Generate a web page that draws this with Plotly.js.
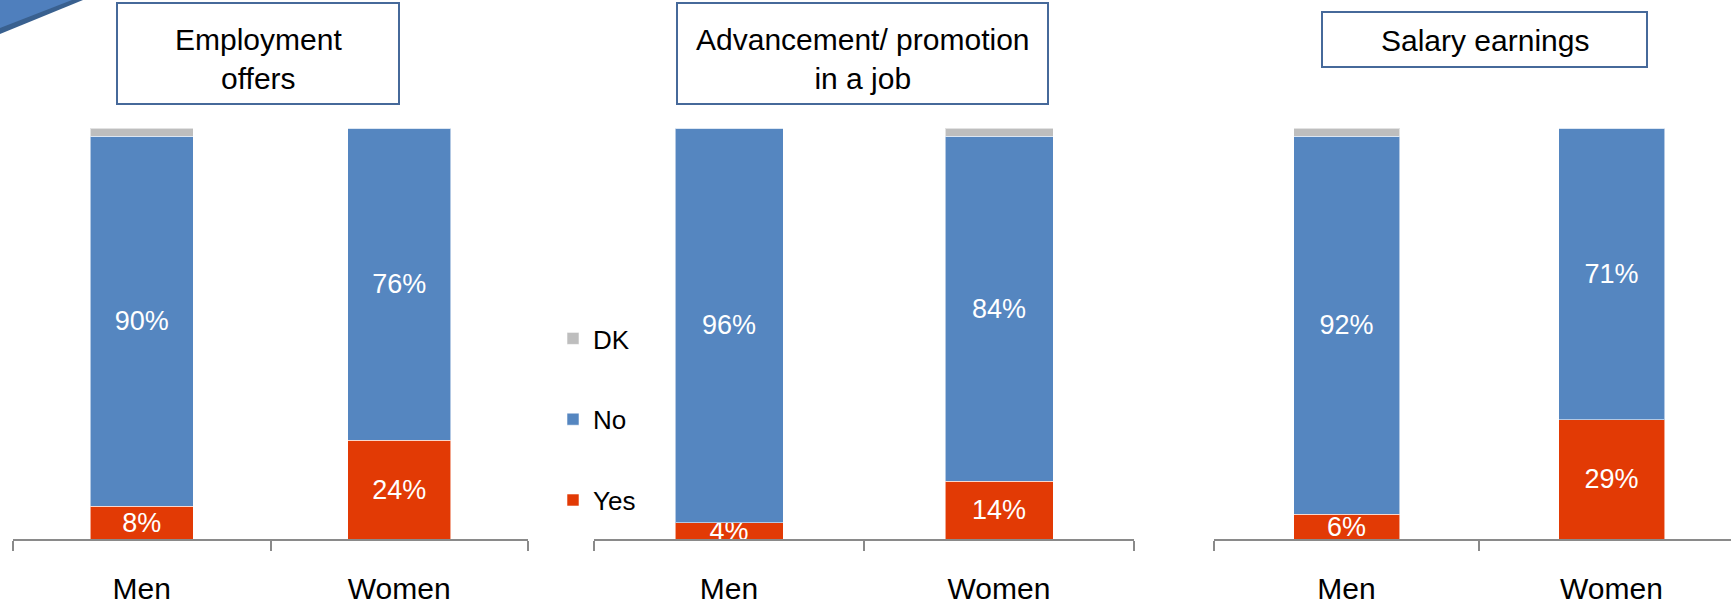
<!DOCTYPE html>
<html>
<head>
<meta charset="utf-8">
<script src="https://cdn.plot.ly/plotly-3.0.1.min.js"></script>
<style>
  html, body { margin: 0; padding: 0; background: #ffffff; }
  #chart { width: 1731px; height: 604px; }
</style>
</head>
<body>
<div id="chart"></div>
<script>
// ---- data ----
const categories = ['Men', 'Women'];
const panelTitles = ['Employment<br>offers', 'Advancement/ promotion<br>in a job', 'Salary earnings'];
const seriesNames = ['Yes', 'No', 'DK'];

const employmentYes = [8, 24];
const employmentNo  = [90, 76];
const employmentDK  = [2, 0];

const promotionYes = [4, 14];
const promotionNo  = [96, 84];
const promotionDK  = [0, 2];

const salaryYes = [6, 29];
const salaryNo  = [92, 71];
const salaryDK  = [2, 0];

// ---- styling ----
const W = 1731, H = 604;
const FONT = '"Liberation Sans", Arial, sans-serif';
const colors = { Yes: '#E23A05', No: '#5586C0', DK: '#BEBEBE' };
const legendRanks = { DK: 1, No: 2, Yes: 3 };

const panels = [
  { yes: employmentYes, no: employmentNo, dk: employmentDK },
  { yes: promotionYes,  no: promotionNo,  dk: promotionDK },
  { yes: salaryYes,     no: salaryNo,     dk: salaryDK }
];

const traces = [];
panels.forEach((p, i) => {
  const sfx = i === 0 ? '' : String(i + 1);
  const vals = { Yes: p.yes, No: p.no, DK: p.dk };
  seriesNames.forEach(name => {
    const v = vals[name];
    traces.push({
      type: 'bar',
      name: name,
      legendgroup: name,
      legendrank: legendRanks[name],
      showlegend: i === 0,
      x: categories,
      y: v,
      xaxis: 'x' + sfx,
      yaxis: 'y' + sfx,
      marker: { color: colors[name], line: { color: 'rgba(255,255,255,0.55)', width: 1 } },
      text: name === 'DK' ? v.map(() => '') : v.map(n => n + '%'),
      textposition: name === 'DK' ? 'none' : 'inside',
      insidetextanchor: 'middle',
      constraintext: 'none',
      textangle: 0,
      textfont: { family: FONT, size: 27, color: '#ffffff' },
      hoverinfo: 'skip'
    });
  });
});

const px = v => v / W;
const py = v => (H - v) / H;

function xAxis(d0, d1, rng, anchor) {
  return {
    domain: [d0, d1], range: rng, anchor: anchor,
    type: 'category', tickson: 'boundaries',
    showline: true, linecolor: '#8a8a8a', linewidth: 2,
    ticks: 'outside', ticklen: 10, tickwidth: 2, tickcolor: '#8a8a8a',
    showgrid: false, zeroline: false, fixedrange: true,
    tickfont: { family: FONT, size: 30, color: '#000000' },
    ticklabelstandoff: 22
  };
}
function yAxis(anchor) {
  return {
    domain: [py(539), py(128)], range: [0, 100], anchor: anchor,
    visible: false, showgrid: false, zeroline: false, fixedrange: true
  };
}

const boxes = [
  { cx: 258, cy: 53.5, w: 280, h: 99, ty: 59 },
  { cx: 862.5, cy: 53.5, w: 369, h: 99, ty: 59 },
  { cx: 1484.5, cy: 39.5, w: 323, h: 53, ty: 40 }
];

const boxAnnotations = boxes.map(b => ({
  xref: 'paper', yref: 'paper', x: px(b.cx), y: py(b.cy),
  xanchor: 'center', yanchor: 'middle', showarrow: false,
  text: ' ', width: b.w, height: b.h,
  bordercolor: '#46699A', borderwidth: 2, borderpad: 0, bgcolor: '#ffffff'
}));
const titleAnnotations = boxes.map((b, i) => ({
  xref: 'paper', yref: 'paper', x: px(b.cx), y: py(b.ty),
  xanchor: 'center', yanchor: 'middle', showarrow: false,
  text: panelTitles[i], align: 'center',
  font: { family: FONT, size: 30, color: '#000000' }
}));

const layout = {
  width: W, height: H,
  margin: { l: 0, r: 0, t: 0, b: 0 },
  paper_bgcolor: '#ffffff', plot_bgcolor: 'rgba(0,0,0,0)',
  barmode: 'stack', bargap: 0.6,
  font: { family: FONT, color: '#000000' },
  xaxis:  xAxis(px(13),  px(528),  [-0.5, 1.5], 'y'),
  xaxis2: xAxis(px(594), px(1134), [-0.5, 1.5], 'y2'),
  xaxis3: xAxis(px(1214), 1, [-0.5, -0.5 + (W - 1214) / 265], 'y3'),
  yaxis: yAxis('x'), yaxis2: yAxis('x2'), yaxis3: yAxis('x3'),
  legend: {
    x: px(553), y: py(315), xanchor: 'left', yanchor: 'top',
    traceorder: 'grouped', tracegroupgap: 44,
    font: { family: FONT, size: 26, color: '#000000' },
    bgcolor: 'rgba(0,0,0,0)', borderwidth: 0
  },
  annotations: boxAnnotations.concat(titleAnnotations),
  shapes: [
    { type: 'path', xref: 'paper', yref: 'paper', layer: 'above',
      path: `M0,1 L${px(83)},1 L0,${py(34)} Z`, fillcolor: '#39608F', line: { width: 0 } },
    { type: 'path', xref: 'paper', yref: 'paper', layer: 'above',
      path: `M0,1 L${px(72)},1 L0,${py(28)} Z`, fillcolor: '#4F7FBD', line: { width: 0 } }
  ],
  showlegend: true
};

Plotly.newPlot('chart', traces, layout, { displayModeBar: false, staticPlot: true });
</script>
</body>
</html>
